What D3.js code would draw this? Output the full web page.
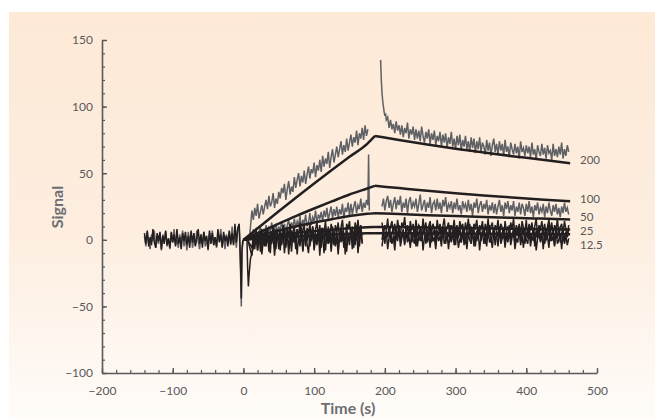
<!DOCTYPE html>
<html>
<head>
<meta charset="utf-8">
<script src="https://cdn.jsdelivr.net/npm/d3@7"></script>
<style>
  body { margin: 0; background: #fff; }
  svg { display: block; font-family: Lato, "Open Sans", sans-serif; }
</style>
</head>
<body>
<script>
// sample spacing of the recorded traces (s)
var dt = 2;

// baseline (t = -140 .. -8)
var baseGrey = [3,-5,6,-2,-7,4,-1,7,-6,2, -3,5,-8,4,-1,6,-5,1,-7,5, -2,8,-4,0,-6,4,-3,7,-5,3,
	-8,6,-2,5,-6,2,-4,7,-1,-7, 4,-3,6,-5,1,-8,5,-2,7,-4, 2,-6,5,-1,8,-5,3,-7,4,-2, 6,-4,10,-3,5,-6,9];
var baseBlack = [5,-3,7,-5,2,-4,8,-2,-6,5, -1,6,-7,3,-3,7,-4,1,-6,6, -2,4,-5,8,-3,2,-7,5,-1,6,
	-4,3,-6,7,-2,5,-5,1,8,-3, 4,-6,6,-1,3,-7,7,-3,5,-4, 2,-5,8,-2,4,-6,6,-1,3,-5, 7,-3,5,-4,12,-2,9];
// injection artefacts [t, signal]
var injGrey = [[-6,10],[-4,-25],[-3,-50],[-2,-8],[0,0]];
var injBlack = [[-6,12],[-5,-2],[-4,-20],[-3,-44],[-2,-6],[-1,-1],[0,0],[5,0]];
var dipBlack = [[5,0],[6,-22],[7,-35],[8,-26],[10,-14]];

// association (t = 12 ..)
var assoc200 = [22,15,24,18,27,16,21,26,19,25, 30,23,33,25,28,35,24,31,27,36, 31,39,35,42,30,38,44,34,40,36,
	47,39,45,50,40,48,43,52,42,49, 55,46,53,50,58,47,56,52,60,51, 63,55,61,57,66,54,62,68,58,64,
	70,62,68,74,64,71,66,76,67,73, 79,70,77,73,82,71,80,76,84,75, 86,78,83];
var assoc100 = [1,8,3,9,-1,6,10,2,7,4, 11,3,9,6,13,2,8,12,5,10, 6,14,8,12,4,11,15,7,13,9,
	16,9,14,11,18,8,15,12,19,10, 13,20,11,17,14,22,12,19,16,21, 14,22,17,24,15,20,25,16,23,18,
	25,17,23,19,27,16,24,21,28,18, 27,19,25,29,20,26,23,31,21,28, 24,30,26];
var spike100 = [[177,64],[178,22]];
var assoc50 = [-6,3,-2,7,-8,4,1,8,-4,6, 2,9,-5,5,-1,10,3,-7,7,0, 8,-3,11,4,-6,9,2,12,-2,6,
	10,-4,8,3,13,-1,7,11,-5,9, 4,12,0,10,-3,8,13,2,11,-6, 9,5,14,1,10,-2,12,7,-4,11,
	6,13,0,9,15,3,-3,12,8,14, 2,10,-1,13,6,15,4,11,-2];
var assoc25 = [-12,0,-7,4,-3,6,-9,2,5,-5, 7,-2,3,-10,6,1,-6,8,-1,4, -8,5,2,9,-4,6,-11,3,7,-2,
	5,-7,8,1,-3,9,-9,4,6,-1, 8,-5,3,10,-8,5,0,7,-4,9, 2,-10,6,4,-3,8,-6,10,1,-2,
	7,-8,4,9,-1,5,-11,8,3,-4, 9,2,-6,7,0,10,-5,6,3];
var assoc12 = [-10,-6,-2,3,-8,1,5,-11,-1,4, -5,6,-9,2,-3,5,-12,0,4,-7, 3,-4,7,-10,1,5,-6,2,-9,6,
	-2,4,-11,3,-5,7,-8,1,5,-3, -10,4,-1,6,-7,2,-4,7,-12,3, 0,5,-8,4,-3,7,-9,2,6,-5,
	3,-11,5,-2,7,-6,1,-9,4,0, 6,-7,3,-4,8,-10,2,5,-3];

// dissociation
var head200 = [[194,135],[195,120],[196,110],[197,104],[198,100],[199,96],[200,93],[201,95],[202,90],[203,91]];
var dissoc200 = [92,84,90,83,87,80,89,82,86,79, 86,77,84,80,88,76,83,79,85,75, 83,76,82,74,85,78,73,81,76,83,
	72,80,75,82,71,78,74,81,70,79, 73,80,69,77,72,81,70,76,68,78, 71,79,67,75,70,78,68,74,66,77,
	69,76,65,74,68,77,66,73,70,64, 75,67,73,63,71,76,66,72,64,74, 67,72,63,75,66,70,62,73,68,64,
	72,65,70,61,74,66,69,63,71,65, 70,62,73,64,68,60,71,66,63,72, 64,69,61,71,65,67,60,72,63,68,
	62,70,64,73,61,68,63,71,66];
var dissoc100 = [25,31,22,29,33,24,30,21,27,32, 23,30,26,33,21,28,24,31,20,29, 32,23,28,25,31,21,27,34,22,26,
	30,21,28,24,32,20,27,29,22,31, 23,28,20,30,25,32,21,27,24,29, 20,28,23,31,22,26,19,29,24,27,
	21,30,22,27,18,28,24,31,20,26, 29,21,27,23,30,19,26,22,28,20, 27,19,25,30,21,26,18,28,23,29,
	20,26,22,29,18,25,21,28,19,27, 24,18,27,21,29,20,25,17,26,22, 28,19,24,21,27,17,25,20,28,22,
	18,26,21,27,19,24,17,25,20,28, 21,24,19];
var dissoc50 = [13,4,11,7,16,3,10,14,5,12, 2,15,8,4,13,9,17,5,11,3, 14,7,12,1,15,6,11,9,3,16,
	6,13,2,10,14,5,12,8,2,15, 7,12,4,10,16,5,9,13,3,11, 7,15,4,11,2,14,8,12,4,13,
	6,16,5,10,3,12,9,15,2,11, 8,14,3,12,6,16,4,10,13,2, 11,7,15,3,12,9,1,14,6,10,
	4,13,8,16,2,11,6,12,3,14, 9,5,15,1,12,7,13,4,10,16, 3,11,8,14,5,12,2,10,15,6,
	13,4,11,7,16,3,9,12,5,14, 8,2,11];
var dissoc25 = [0,8,-3,6,2,10,-2,5,9,-4, 7,3,11,-1,4,8,-3,9,1,6, 11,-2,3,8,-5,7,2,10,-1,5,
	9,-3,6,1,11,-2,4,8,-4,7, 3,10,0,5,9,-3,6,2,11,-1, 4,8,-4,7,1,10,-2,5,9,-3,
	6,2,12,0,4,8,-5,7,3,10, -1,5,9,-3,6,1,11,-2,4,8, -4,7,2,10,0,5,9,-3,6,1,
	11,-1,4,8,-4,7,3,10,-2,5, 9,-3,6,2,11,0,4,8,-5,7, 1,10,-2,5,9,-3,6,2,12,-1,
	4,8,-4,7,1,10,-2,5,9,-3, 6,2,8];
var dissoc12 = [-5,4,-1,7,-7,2,6,-3,3,-8, 5,-1,8,-5,1,6,-4,7,-2,3, -6,6,0,-3,8,-5,3,-1,7,-8,
	2,5,-2,4,-6,7,-1,2,-7,6, -1,3,-5,8,-3,0,5,-7,4,-2, 7,-4,2,6,-6,1,-2,8,-4,3,
	-7,5,0,-3,7,-5,3,-1,6,-8, 3,6,-3,4,-5,8,-2,1,-6,5, 0,3,-5,8,-3,1,5,-6,4,-2,
	7,-4,2,6,-7,1,-2,8,-4,3, -6,5,0,-3,7,-5,3,-1,6,-8, 1,4,-1,5,-7,6,0,3,-6,7,
	-1,3,-5,8,-3,0,5,-7,4,-2, 3,-4,1];

// fitted curves
var fitAssocT = [0,25,50,75,100,125,150,175,186];
var fitDissT = [186,220,260,300,340,380,420,462];
var fit200A = [0,10.8,21.5,32,42.3,52.4,62.3,72,78];
var fit200D = [78,75,71.5,68.3,65.5,62.8,60.3,57.5];
var fit100A = [0,6.2,12.2,18,23.5,28.8,34,38.5,40.5];
var fit100D = [40.5,38.8,36.8,35,33.3,31.8,30.3,29];
var fit50A = [0,3.6,7,10.2,13,15.5,17.8,19.5,20];
var fit50D = [20,19.3,18.5,17.8,17.1,16.5,15.9,15.3];
var fit25A = [0,2,3.7,5.2,6.5,7.6,8.6,9.4,9.7];
var fit25D = [9.7,9.5,9.2,8.9,8.6,8.3,8.0,7.8];
var fit12A = [0,1,1.9,2.7,3.4,4,4.5,4.9,5];
var fit12D = [5,4.9,4.8,4.6,4.5,4.4,4.2,4.1];

var concLabels = ['200','100','50','25','12.5'];
var concLabelAt = [60,30.8,17.3,6.8,-3.8];

var xTicks = [-200,-100,0,100,200,300,400,500];
var yTicks = [-100,-50,0,50,100,150];

function seg(t0, vals) {
	return vals.map(function (v, i) { return [t0 + i * dt, v]; });
}

var width = 655, height = 419;
var svg = d3.select('body').append('svg').attr('width', width).attr('height', height);

var defs = svg.append('defs');
var grad = defs.append('linearGradient').attr('id', 'bg').attr('x1', 0).attr('y1', 0).attr('x2', 0).attr('y2', 1);
grad.append('stop').attr('offset', '0%').attr('stop-color', '#fde9d6');
grad.append('stop').attr('offset', '55%').attr('stop-color', '#fdeee0');
grad.append('stop').attr('offset', '100%').attr('stop-color', '#fffcf9');
svg.append('rect').attr('x', 9).attr('y', 12).attr('width', width - 9).attr('height', height - 12).attr('fill', 'url(#bg)');

var x = d3.scaleLinear().domain([-200, 500]).range([102, 597]);
var y = d3.scaleLinear().domain([-100, 150]).range([373, 40]);

var axisCol = '#58595b';

// minor ticks
svg.append('g').attr('transform', 'translate(102,0)')
	.call(d3.axisLeft(y).tickValues(d3.range(-100, 151, 10)).tickSize(-3).tickSizeOuter(0).tickFormat(''))
	.call(function (g) { g.select('.domain').remove(); g.selectAll('line').attr('stroke', axisCol).attr('stroke-width', 1.2); });
svg.append('g').attr('transform', 'translate(0,373)')
	.call(d3.axisBottom(x).tickValues(d3.range(-200, 501, 20)).tickSize(-3).tickSizeOuter(0).tickFormat(''))
	.call(function (g) { g.select('.domain').remove(); g.selectAll('line').attr('stroke', axisCol).attr('stroke-width', 1.2); });

// major ticks + labels
var yAxis = svg.append('g').attr('transform', 'translate(102,0)')
	.call(d3.axisLeft(y).tickValues(yTicks).tickSize(-5).tickSizeOuter(0).tickPadding(9));
var xAxis = svg.append('g').attr('transform', 'translate(0,373)')
	.call(d3.axisBottom(x).tickValues(xTicks).tickSize(-5).tickSizeOuter(0).tickPadding(13));
[yAxis, xAxis].forEach(function (g) {
	g.select('.domain').attr('stroke', axisCol).attr('stroke-width', 1.6);
	g.selectAll('line').attr('stroke', axisCol).attr('stroke-width', 1.4);
	g.selectAll('text').attr('fill', '#58595b').attr('font-size', 12).attr('font-family', 'Lato, sans-serif');
});

svg.append('text').attr('transform', 'translate(63,207) rotate(-90)')
	.attr('text-anchor', 'middle').attr('font-size', 16).attr('font-weight', 'bold')
	.attr('fill', '#6d6e71').text('Signal');
svg.append('text').attr('x', 348).attr('y', 414)
	.attr('text-anchor', 'middle').attr('font-size', 16).attr('font-weight', 'bold')
	.attr('fill', '#6d6e71').text('Time (s)');

var line = d3.line().x(function (d) { return x(d[0]); }).y(function (d) { return y(d[1]); });
var smooth = d3.line().curve(d3.curveMonotoneX).x(function (d) { return x(d[0]); }).y(function (d) { return y(d[1]); });

var greyCol = '#5e6065', blackCol = '#231f20';

var greyTraces = [
	seg(-140, baseGrey).concat(injGrey),
	[[9, 4]].concat(seg(12, assoc200)),
	seg(12, assoc100).concat(spike100),
	head200.concat(seg(204, dissoc200)),
	seg(196, dissoc100)
];
var blackTraces = [
	seg(-140, baseBlack).concat(injBlack),
	[[6, 0]].concat(seg(12, assoc50)),
	[[6, 0]].concat(seg(12, assoc25)),
	dipBlack.concat(seg(12, assoc12)),
	seg(196, dissoc50),
	seg(196, dissoc25),
	seg(196, dissoc12)
];

svg.append('g').selectAll('path').data(greyTraces).enter().append('path')
	.attr('d', line).attr('fill', 'none').attr('stroke', greyCol).attr('stroke-width', 1.5);
svg.append('g').selectAll('path').data(blackTraces).enter().append('path')
	.attr('d', line).attr('fill', 'none').attr('stroke', blackCol).attr('stroke-width', 1.5);

var fits = [[fit200A, fit200D], [fit100A, fit100D], [fit50A, fit50D], [fit25A, fit25D], [fit12A, fit12D]];
var fitSegs = [];
fits.forEach(function (f) {
	fitSegs.push(fitAssocT.map(function (t, i) { return [t, f[0][i]]; }));
	fitSegs.push(fitDissT.map(function (t, i) { return [t, f[1][i]]; }));
});
svg.append('g').selectAll('path').data(fitSegs).enter().append('path')
	.attr('d', smooth).attr('fill', 'none').attr('stroke', blackCol)
	.attr('stroke-width', 2.5).attr('stroke-linejoin', 'round');

svg.append('g').selectAll('text').data(concLabels).enter().append('text')
	.attr('x', 580)
	.attr('y', function (d, i) { return y(concLabelAt[i]); })
	.attr('dy', '0.35em').attr('font-size', 11.5).attr('fill', '#58595b')
	.text(function (d) { return d; });
</script>
</body>
</html>
